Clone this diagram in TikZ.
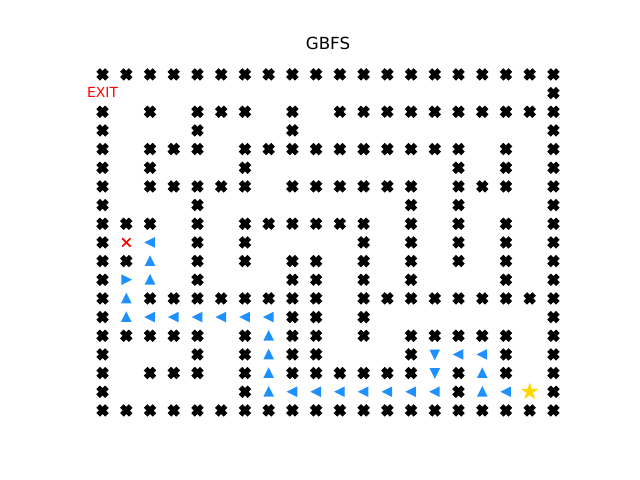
\documentclass[tikz,border=0pt]{standalone}
\usepackage{fontspec}
\setmainfont{DejaVu Sans}
\definecolor{dblue}{RGB}{30,144,255}
\definecolor{mgold}{RGB}{255,215,0}
\definecolor{mred}{RGB}{255,0,0}
\begin{document}
\begin{tikzpicture}[x=0.72pt,y=-0.72pt,
  wall/.pic={\filldraw[black,line width=1pt,rotate=45,scale=1.85]
     (-1,-3) -- (1,-3) -- (1,-1) -- (3,-1) -- (3,1) -- (1,1) -- (1,3) -- (-1,3)
     -- (-1,1) -- (-3,1) -- (-3,-1) -- (-1,-1) -- cycle;},
  tup/.pic={\filldraw[dblue,line width=1pt,line join=miter] (0,-4.17) -- (-4.17,4.17) -- (4.17,4.17) -- cycle;},
  tdown/.pic={\filldraw[dblue,line width=1pt] (0,4.17) -- (-4.17,-4.17) -- (4.17,-4.17) -- cycle;},
  tleft/.pic={\filldraw[dblue,line width=1pt] (-4.17,0) -- (4.17,-4.17) -- (4.17,4.17) -- cycle;},
  tright/.pic={\filldraw[dblue,line width=1pt] (4.17,0) -- (-4.17,-4.17) -- (-4.17,4.17) -- cycle;},
  starm/.pic={\filldraw[mgold,line width=1pt]
     (-90:6.94) -- (-54:2.65) -- (-18:6.94) -- (18:2.65) -- (54:6.94) -- (90:2.65)
     -- (126:6.94) -- (162:2.65) -- (198:6.94) -- (234:2.65) -- cycle;},
  redx/.pic={\draw[mred,line width=1.2pt] (-4.17,-4.17) -- (4.17,4.17) (-4.17,4.17) -- (4.17,-4.17);}
]
\useasboundingbox (0,0) rectangle (640,480);
\fill[white] (0,0) rectangle (640,480);
\node[font=\fontsize{12}{14}\selectfont,anchor=base,inner sep=0pt] (title) at (328,49) {GBFS};
\node[text=mred,font=\fontsize{10}{12}\selectfont,inner sep=0pt] (exit) at (102.55,92) {EXIT};
\foreach \r/\cols in {
  0/{0,...,19},
  1/{19},
  2/{0,2,4,5,6,8,10,11,12,13,14,15,16,17,18,19},
  3/{0,4,8,19},
  4/{0,2,3,4,6,7,8,9,10,11,12,13,14,15,17,19},
  5/{0,2,6,15,17,19},
  6/{0,2,3,4,5,6,8,9,10,11,12,13,15,16,17,19},
  7/{0,4,13,15,19},
  8/{0,1,2,4,6,7,8,9,10,11,13,15,17,19},
  9/{0,4,6,11,13,15,17,19},
  10/{0,1,4,6,8,9,11,13,15,17,19},
  11/{0,4,8,9,11,13,17,19},
  12/{0,2,3,4,5,6,7,8,9,11,12,13,14,15,16,17,18,19},
  13/{0,8,9,11,19},
  14/{0,1,2,3,4,6,8,9,11,13,14,15,16,17,19},
  15/{0,4,6,8,9,13,17,19},
  16/{0,2,3,4,6,8,9,10,11,12,13,15,17,19},
  17/{0,6,15,19},
  18/{0,...,19}}{
  \foreach \c in \cols {
    \pic at ({102.55+23.732*\c},{74.4+18.667*\r}) {wall};
  }
}
\foreach \c/\r in {2/10,2/11,1/12,1/13,7/14,7/15,7/16,7/17,16/16,16/17}
  \pic at ({102.55+23.732*\c},{74.4+18.667*\r}) {tup};
\foreach \c/\r in {2/9,2/13,3/13,4/13,5/13,6/13,7/13,8/17,9/17,10/17,11/17,12/17,13/17,14/17,15/15,16/15,17/17}
  \pic at ({102.55+23.732*\c},{74.4+18.667*\r}) {tleft};
\foreach \c/\r in {1/11}
  \pic at ({102.55+23.732*\c},{74.4+18.667*\r}) {tright};
\foreach \c/\r in {14/15,14/16}
  \pic at ({102.55+23.732*\c},{74.4+18.667*\r}) {tdown};
\pic at ({102.55+23.732*18},{74.4+18.667*17}) {starm};
\pic at ({102.55+23.732*1},{74.4+18.667*9}) {redx};
\end{tikzpicture}
\end{document}
